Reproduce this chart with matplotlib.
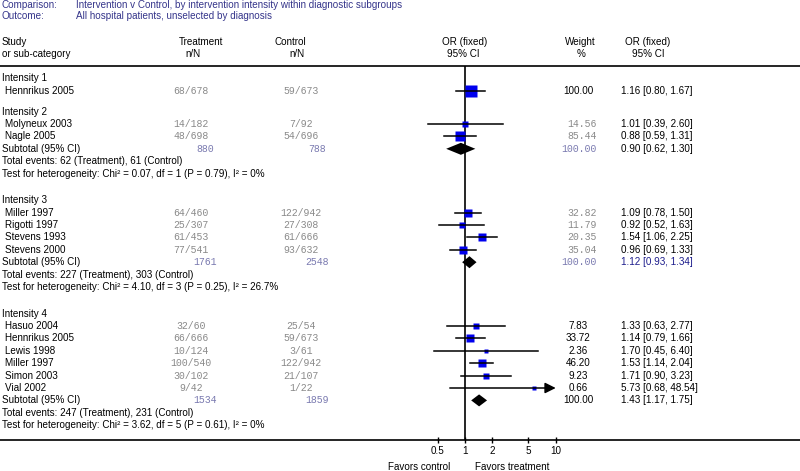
import numpy as np
import matplotlib
matplotlib.use("Agg")
import matplotlib.pyplot as plt
from matplotlib.ticker import NullLocator

# --- data -------------------------------------------------------------
comparison = "Intervention v Control, by intervention intensity within diagnostic subgroups"
outcome = "All hospital patients, unselected by diagnosis"

group_labels = ["Intensity 1", "Intensity 2", "Intensity 3", "Intensity 4"]
study = ["Hennrikus 2005", "Molyneux 2003", "Nagle 2005", "Miller 1997", "Rigotti 1997",
         "Stevens 1993", "Stevens 2000", "Hasuo 2004", "Hennrikus 2005", "Lewis 1998",
         "Miller 1997", "Simon 2003", "Vial 2002"]
group = [0, 1, 1, 2, 2, 2, 2, 3, 3, 3, 3, 3, 3]
treat_n = [68, 14, 48, 64, 25, 61, 77, 32, 66, 10, 100, 30, 9]
treat_N = [678, 182, 698, 460, 307, 453, 541, 60, 666, 124, 540, 102, 42]
ctrl_n = [59, 7, 54, 122, 27, 61, 93, 25, 59, 3, 122, 21, 1]
ctrl_N = [673, 92, 696, 942, 308, 666, 632, 54, 673, 61, 942, 107, 22]
weight = [100.00, 14.56, 85.44, 32.82, 11.79, 20.35, 35.04, 7.83, 33.72, 2.36, 46.20, 9.23, 0.66]
odds = [1.16, 1.01, 0.88, 1.09, 0.92, 1.54, 0.96, 1.33, 1.14, 1.70, 1.53, 1.71, 5.73]
ci_lo = [0.80, 0.39, 0.59, 0.78, 0.52, 1.06, 0.69, 0.63, 0.79, 0.45, 1.14, 0.90, 0.68]
ci_hi = [1.67, 2.60, 1.31, 1.50, 1.63, 2.25, 1.33, 2.77, 1.66, 6.40, 2.04, 3.23, 48.54]

# subtotals (groups 2-4)
sub_group = [1, 2, 3]
sub_treat_N = [880, 1761, 1534]
sub_ctrl_N = [788, 2548, 1859]
sub_odds = [0.90, 1.12, 1.43]
sub_lo = [0.62, 0.93, 1.17]
sub_hi = [1.30, 1.34, 1.75]
ev_treat = [62, 227, 247]
ev_ctrl = [61, 303, 231]
chi2 = [0.07, 4.10, 3.62]
dfree = [1, 3, 5]
pval = [0.79, 0.25, 0.61]
isq = ["0%", "26.7%", "0%"]

ticks = [0.5, 1, 2, 5, 10]
tick_labels = ["0.5", "1", "2", "5", "10"]

# --- style ------------------------------------------------------------
SANS = "Liberation Sans"
MONO = "Liberation Mono"
FS = 7.1
NAVY = "#34348a"
GREY = "#8a8a8a"
SUBBLUE = "#7a7ab0"
SQ = "#0000ee"
mono_weight_groups = {1, 2}      # these groups print weights in grey monospace
blue_sub_or = {2}                # subtotal OR printed in blue

fig = plt.figure(figsize=(8, 4.71), dpi=100)
ax = fig.add_axes([0, 0, 1, 1])
ax.set_xlim(0, 800)
ax.set_ylim(471, 0)
ax.axis("off")

Y_TOP, Y_BOT = 66, 440
X_LO, X_HI = 374.3, 555.7
fx = fig.add_axes([X_LO / 800, (471 - Y_BOT) / 471, (X_HI - X_LO) / 800, (Y_BOT - Y_TOP) / 471])
fx.set_xscale("log")
fx.set_xlim(0.1, 10)
fx.set_ylim(Y_BOT, Y_TOP)
fx.patch.set_alpha(0)
for s in fx.spines.values():
    s.set_visible(False)
fx.set_yticks([])
fx.set_xticks(ticks)
fx.set_xticklabels(tick_labels, fontfamily=SANS, fontsize=FS)
fx.xaxis.set_minor_locator(NullLocator())
fx.tick_params(axis="x", direction="inout", length=5, width=1, pad=1.5)


def txt(x, y, s, ha="left", family=SANS, color="black", **kw):
    ax.text(x, y, s, ha=ha, va="center", fontfamily=family, fontsize=FS, color=color, **kw)


# header
txt(2, 5, "Comparison:", color=NAVY)
txt(76, 5, comparison, color=NAVY)
txt(2, 16, "Outcome:", color=NAVY)
txt(76, 16, outcome, color=NAVY)
txt(2, 42, "Study")
txt(2, 54, "or sub-category")
txt(201, 42, "Treatment", ha="center")
txt(193, 54, "n/N", ha="center")
txt(290, 42, "Control", ha="center")
txt(297, 54, "n/N", ha="center")
txt(465, 42, "OR (fixed)", ha="center")
txt(463, 54, "95% CI", ha="center")
txt(580, 42, "Weight", ha="center")
txt(581, 54, "%", ha="center")
txt(648, 42, "OR (fixed)", ha="center")
txt(648, 54, "95% CI", ha="center")

ax.plot([0, 800], [Y_TOP, Y_TOP], color="black", lw=1.2)
ax.plot([0, 800], [Y_BOT, Y_BOT], color="black", lw=1.2)
fx.axvline(1, color="black", lw=1.2, zorder=1)

# --- rows -------------------------------------------------------------
step = 12.4
y = 78.3
for g, glabel in enumerate(group_labels):
    txt(2, y, glabel)
    y += step
    for i in [k for k in range(len(study)) if group[k] == g]:
        txt(5, y, study[i])
        txt(191, y, f"{treat_n[i]}/{treat_N[i]}", ha="center", family=MONO, color=GREY)
        txt(301, y, f"{ctrl_n[i]}/{ctrl_N[i]}", ha="center", family=MONO, color=GREY)
        if g in mono_weight_groups:
            txt(597, y, f"{weight[i]:.2f}", ha="right", family=MONO, color=GREY)
        else:
            txt(578, y, f"{weight[i]:.2f}", ha="center")
        txt(621, y, f"{odds[i]:.2f} [{ci_lo[i]:.2f}, {ci_hi[i]:.2f}]")
        side = 3.5 + 8 * np.sqrt(weight[i] / 100)
        fx.plot(odds[i], y, marker="s", ms=side * 0.72, color=SQ, mec="none", zorder=2)
        if ci_hi[i] > 10:
            fx.annotate("", xy=(10, y), xytext=(ci_lo[i], y),
                        arrowprops=dict(arrowstyle="-|>", color="black", lw=1.1,
                                        mutation_scale=16, shrinkA=0, shrinkB=0), zorder=3)
        else:
            fx.plot([ci_lo[i], ci_hi[i]], [y, y], color="black", lw=1.1, zorder=3)
        y += step
    if g in sub_group:
        j = sub_group.index(g)
        txt(2, y, "Subtotal (95% CI)")
        txt(205, y, f"{sub_treat_N[j]}", ha="center", family=MONO, color=SUBBLUE)
        txt(317, y, f"{sub_ctrl_N[j]}", ha="center", family=MONO, color=SUBBLUE)
        if g in mono_weight_groups:
            txt(597, y, "100.00", ha="right", family=MONO, color=SUBBLUE)
        else:
            txt(578, y, "100.00", ha="center")
        txt(621, y, f"{sub_odds[j]:.2f} [{sub_lo[j]:.2f}, {sub_hi[j]:.2f}]",
            color="#1c1c8c" if g in blue_sub_or else "black")
        fx.fill([sub_lo[j], sub_odds[j], sub_hi[j], sub_odds[j]],
                [y, y - 6, y, y + 6], color="black", lw=0, zorder=3)
        y += step
        txt(2, y, f"Total events: {ev_treat[j]} (Treatment), {ev_ctrl[j]} (Control)")
        y += step
        txt(2, y, f"Test for heterogeneity: Chi\u00b2 = {chi2[j]:.2f}, df = {dfree[j]} "
                  f"(P = {pval[j]:.2f}), I\u00b2 = {isq[j]}")
        y += step + 14.2
    else:
        y += 8.5

txt(450, 467, "Favors control", ha="right")
txt(475, 467, "Favors treatment")

fig.savefig("out.png", dpi=100)
